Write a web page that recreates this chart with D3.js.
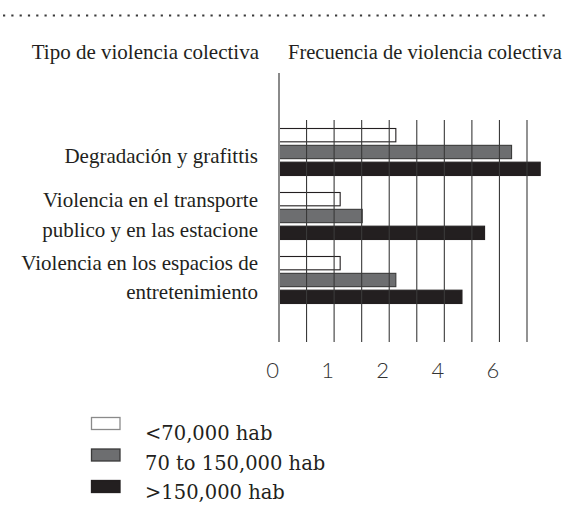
<!DOCTYPE html>
<html>
<head>
<meta charset="utf-8">
<script src="https://cdn.jsdelivr.net/npm/d3@7"></script>
<style>
  html, body { margin: 0; padding: 0; background: #fff; }
  svg { display: block; }
  .serif { font-family: "Liberation Serif", "DejaVu Serif", serif; fill: #231f20; }
  .legend-text { font-family: "DejaVu Serif", "Liberation Serif", serif; fill: #231f20; }
  .sans { font-family: "Lato", "Open Sans", sans-serif; font-weight: 300; fill: #333; }
</style>
</head>
<body>
<svg id="chart" width="563" height="507"></svg>
<script>
// ---- data ----
const categories = [
  ["Degradación y grafittis"],
  ["Violencia en el transporte", "publico y en las estacione"],
  ["Violencia en los espacios de", "entretenimiento"]
];
const categoryKeys = ["degradacion", "transporte", "entretenimiento"];
const seriesNames = ["<70,000 hab", "70 to 150,000 hab", ">150,000 hab"];
const seriesSmall = [2.12, 1.11, 1.11];
const seriesMedium = [4.22, 1.51, 2.12];
const seriesLarge = [4.74, 3.73, 3.32];
const tickValues = [0, 1, 2, 3, 4];
const tickLabels = ["0", "1", "2", "4", "6"];
const gridValues = [0.5, 1, 1.5, 2, 2.5, 3, 3.5, 4, 4.5];
const headerLeft = "Tipo de violencia colectiva";
const headerRight = "Frecuencia de violencia colectiva";

const seriesValues = [seriesSmall, seriesMedium, seriesLarge];
const seriesFill = ["#ffffff", "#6d6e70", "#231f20"];
const seriesStroke = ["#231f20", "#3a3a3a", "#231f20"];

const svg = d3.select("#chart");

// dotted rule
svg.append("line")
  .attr("x1", 3).attr("x2", 545).attr("y1", 15.5).attr("y2", 15.5)
  .attr("stroke", "#3a3a3a").attr("stroke-width", 2.2)
  .attr("stroke-dasharray", "2.2,6.1");

// headers
svg.append("text").attr("class", "serif")
  .attr("x", 259).attr("y", 59).attr("text-anchor", "end")
  .style("font-size", "21px")
  .text(headerLeft);
svg.append("text").attr("class", "serif")
  .attr("x", 288).attr("y", 59).attr("text-anchor", "start")
  .style("font-size", "20.5px")
  .text(headerRight);

// scales
const x = d3.scaleLinear().domain([0, 4.5]).range([279, 527]);
const y = d3.scaleBand().domain(categoryKeys).range([120, 312])
  .paddingInner(0.25).paddingOuter(0.125);
const ys = d3.scaleBand().domain(d3.range(seriesNames.length)).range([0, y.bandwidth()])
  .paddingInner(0.15).paddingOuter(0);

// bars
const rows = [];
categoryKeys.forEach((k, i) => {
  seriesValues.forEach((vals, s) => rows.push({ key: k, s, v: vals[i] }));
});
svg.append("g").selectAll("rect").data(rows).join("rect")
  .attr("x", x(0))
  .attr("y", d => y(d.key) + ys(d.s) + 0.5)
  .attr("width", d => x(d.v) - x(0))
  .attr("height", ys.bandwidth() - 1)
  .attr("fill", d => seriesFill[d.s])
  .attr("stroke", d => seriesStroke[d.s])
  .attr("stroke-width", 1.1);

// grid lines (drawn over bars)
svg.append("g").selectAll("line").data(gridValues).join("line")
  .attr("x1", d => x(d)).attr("x2", d => x(d))
  .attr("y1", 120).attr("y2", 342)
  .attr("stroke", "#3a3a3a").attr("stroke-width", 1.1);

// axis line
svg.append("line")
  .attr("x1", x(0)).attr("x2", x(0)).attr("y1", 73).attr("y2", 342)
  .attr("stroke", "#8a8a8a").attr("stroke-width", 2);

// x axis tick labels
const axis = d3.axisBottom(x).tickValues(tickValues)
  .tickFormat((d, i) => tickLabels[i]).tickSize(0).tickPadding(0);
const gAxis = svg.append("g").attr("transform", "translate(0,362)").call(axis);
gAxis.select(".domain").remove();
gAxis.selectAll("text")
  .attr("class", "sans")
  .attr("dx", -7)
  .attr("dy", "0.71em")
  .attr("fill", "#333")
  .style("font-size", "22px");

// category labels
const labelBaselines = [[163], [206.5, 236.5], [269.5, 298.5]];
categoryKeys.forEach((k, i) => {
  categories[i].forEach((line, j) => {
    svg.append("text").attr("class", "serif")
      .attr("x", 258).attr("y", labelBaselines[i][j])
      .attr("text-anchor", "end")
      .style("font-size", "21px")
      .text(line);
  });
});

// legend
const legend = svg.append("g");
seriesNames.forEach((name, s) => {
  const g = legend.append("g").attr("transform", `translate(0,${s * 31.5})`);
  g.append("rect").attr("x", 91.5).attr("y", 417.5).attr("width", 28.5).attr("height", 12)
    .attr("fill", seriesFill[s])
    .attr("stroke", s === 0 ? "#8a8a8a" : (s === 1 ? "#3a3a3a" : "#231f20"))
    .attr("stroke-width", 1.3);
  g.append("text").attr("class", "legend-text")
    .attr("x", 145).attr("y", 440 - s * 2)
    .style("font-size", "19.5px")
    .text(name);
});
</script>
</body>
</html>
